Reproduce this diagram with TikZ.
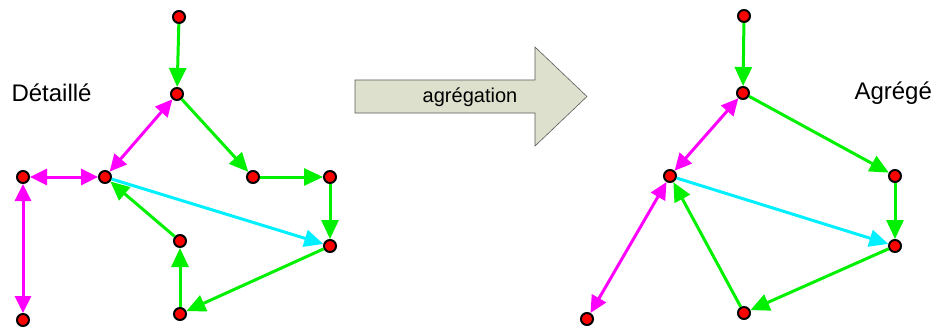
\documentclass[tikz,border=0pt]{standalone}
\usepackage{fontspec}
\setmainfont{Liberation Sans}
\usepackage{xcolor}
\usetikzlibrary{arrows.meta}
\definecolor{flowfill}{RGB}{221,224,204}
\definecolor{flowdraw}{RGB}{90,90,90}
\definecolor{linkgreen}{RGB}{0,240,0}
\definecolor{linkpink}{RGB}{255,0,255}
\definecolor{linkcyan}{RGB}{0,240,255}

\begin{document}
\begin{tikzpicture}[x=1pt, y=-1pt,
        vertex/.style={circle, draw=black, line width=2pt, fill=red, inner sep=0pt, minimum size=12pt},
        link/.style={line width=3pt, -{Triangle[length=19pt, width=17pt]}},
        both/.style={line width=3pt, {Triangle[length=17pt, width=16pt]}-{Triangle[length=17pt, width=16pt]}},
        title/.style={font=\fontsize{24}{28}\selectfont, anchor=west},
    ]
        \useasboundingbox (0,0) rectangle (937,329);

        % Detailed graph
        \node[vertex] (d1)  at (179, 17)  {};
        \node[vertex] (d2)  at (177, 94)  {};
        \node[vertex] (d3)  at (105,177)  {};
        \node[vertex] (d4)  at (23, 177)  {};
        \node[vertex] (d5)  at (23, 320)  {};
        \node[vertex] (d6)  at (253,177)  {};
        \node[vertex] (d7)  at (330,177)  {};
        \node[vertex] (d8)  at (330,246)  {};
        \node[vertex] (d9)  at (180,241)  {};
        \node[vertex] (d10) at (180,314)  {};

        \node[title] (detail) at (8, 93) {Détaillé};

        \foreach \a/\b in {d1/d2, d2/d6, d6/d7, d7/d8, d8/d10, d10/d9, d9/d3}
            \draw[link, linkgreen] (\a) -- (\b);
        \foreach \a/\b in {d2/d3, d3/d4, d4/d5}
            \draw[both, linkpink] (\a) -- (\b);
        \draw[link, linkcyan] (d3) -- (d8);

        % Aggregation arrow
        \draw[fill=flowfill, draw=flowdraw, line width=0.6pt]
            (355,80) -- (535,80) -- (535,47) -- (587,96.5) -- (535,146) -- (535,113) -- (355,113) -- cycle;
        \node[font=\fontsize{20}{24}\selectfont] (agg) at (470,97) {agrégation};

        % Aggregated graph
        \node[vertex] (a1) at (744, 16)  {};
        \node[vertex] (a2) at (743, 93)  {};
        \node[vertex] (a3) at (670,176)  {};
        \node[vertex] (a4) at (587,319)  {};
        \node[vertex] (a5) at (895,176)  {};
        \node[vertex] (a6) at (895,246)  {};
        \node[vertex] (a7) at (744,313)  {};

        \node[title] (aggr) at (851, 93) {Agrégé};

        \foreach \a/\b in {a1/a2, a2/a5, a5/a6, a6/a7, a7/a3}
            \draw[link, linkgreen] (\a) -- (\b);
        \foreach \a/\b in {a2/a3, a3/a4}
            \draw[both, linkpink] (\a) -- (\b);
        \draw[link, linkcyan] (a3) -- (a6);
    \end{tikzpicture}
\end{document}
